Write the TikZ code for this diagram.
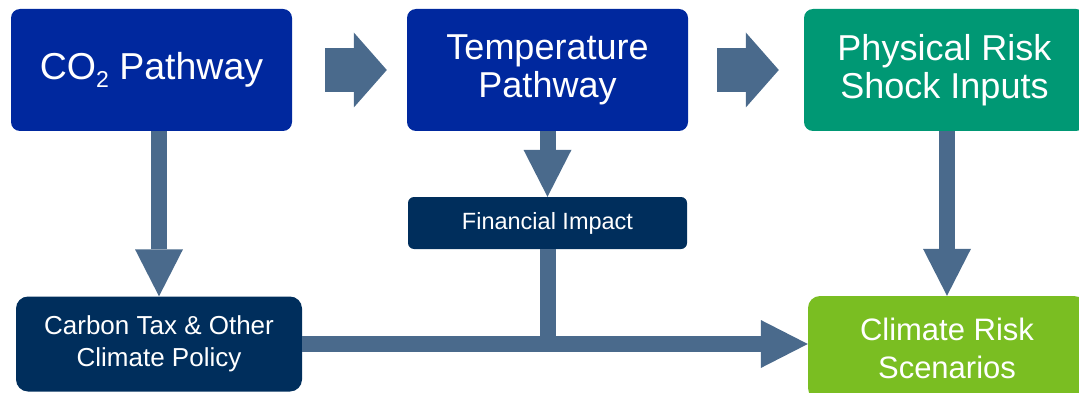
\documentclass[tikz,border=0pt]{standalone}
\usepackage{fontspec}
\setmainfont{Liberation Sans}
\usetikzlibrary{arrows.meta, positioning, calc}
\definecolor{pathblue}{RGB}{0, 40, 158}
\definecolor{shockgreen}{RGB}{0, 152, 116}
\definecolor{scengreen}{RGB}{122, 190, 34}
\definecolor{policynavy}{RGB}{0, 46, 92}
\definecolor{flowgray}{RGB}{74, 106, 140}

\tikzset{
  box/.style={fill=#1, text=white, align=center, inner sep=0pt},
  bigarrow/.style={draw=flowgray, line width=44pt, -{Triangle[width=75pt, length=33pt, line width=0pt]}},
  flowarrow/.style={draw=flowgray, line width=16pt, -{Triangle[width=48pt, length=47pt, line width=0pt]}},
}

\begin{document}
\begin{tikzpicture}[x=1pt, y=-1pt]
  \useasboundingbox (0,0) rectangle (1079,393);

  % top row: pathways and shock inputs
  \node[box=pathblue, rounded corners=9pt, minimum width=281pt, minimum height=122pt, font=\fontsize{37.5}{38}\selectfont] (co2) at (151.5,70) {CO\raisebox{-8pt}{\fontsize{23}{23}\selectfont 2} Pathway};
  \node[box=pathblue, rounded corners=9pt, minimum width=281pt, minimum height=122pt, font=\fontsize{36}{38}\selectfont] (temp) at (547.5,70) {Temperature\\Pathway};
  \node[box=shockgreen, rounded corners=9pt, minimum width=281pt, minimum height=122pt, font=\fontsize{36}{38}\selectfont] (phys) at (944.5,70) {Physical Risk\\Shock Inputs};

  \node[box=policynavy, rounded corners=6pt, minimum width=279pt, minimum height=52pt, font=\fontsize{23.5}{28}\selectfont] (fin) at (547.5,223) {Financial Impact};

  % bottom row
  \node[box=policynavy, rounded corners=12pt, minimum width=286pt, minimum height=95pt, font=\fontsize{26}{32}\selectfont] (policy) at (159,344) {Carbon Tax \& Other\\Climate Policy};
  \node[box=scengreen, rounded corners=12pt, minimum width=278pt, minimum height=104pt, font=\fontsize{31}{38}\selectfont] (scen) at (947,348) {Climate Risk\\Scenarios};

  \draw[bigarrow, shorten <=33pt, shorten >=20pt] (co2.east) -- (co2.east -| temp.west);
  \draw[bigarrow, shorten <=29pt, shorten >=25pt] (temp.east) -- (temp.east -| phys.west);

  \draw[flowarrow] (co2.south -| policy.north) -- (policy.north);
  \draw[flowarrow] (temp.south) -- (fin.north);
  \draw[flowarrow] (phys.south -| scen.north) -- (scen.north);

  % impact feeds into the policy line
  \draw[draw=flowgray, line width=16pt] (fin.south) -- (fin.south |- policy.east);
  \draw[flowarrow] (policy.east) -- (policy.east -| scen.west);
\end{tikzpicture}
\end{document}
